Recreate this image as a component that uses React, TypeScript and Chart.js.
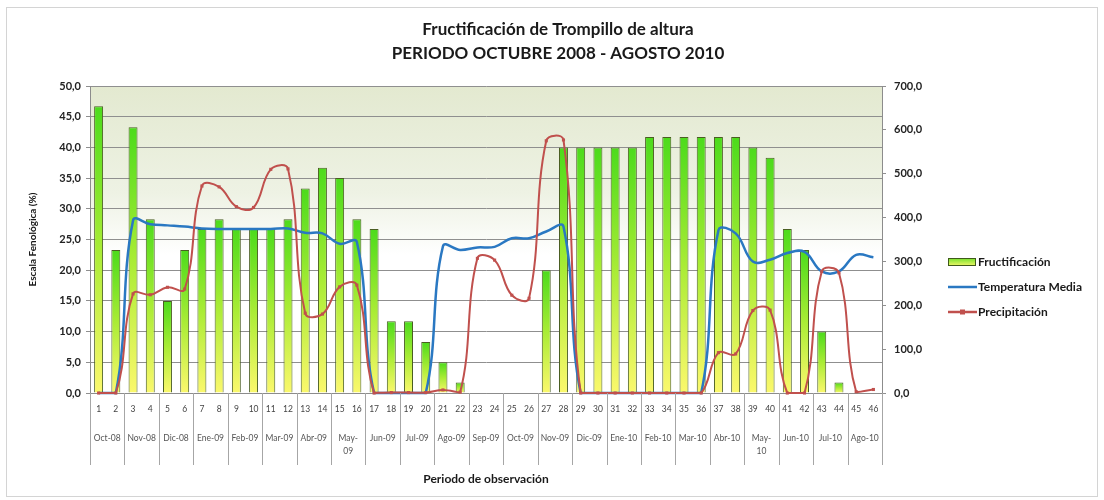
import React, { useEffect, useRef } from 'react';
import { Chart, registerables } from 'chart.js';

Chart.register(...registerables);

const observaciones = ['1','2','3','4','5','6','7','8','9','10','11','12','13','14','15','16','17','18','19','20','21','22','23','24','25','26','27','28','29','30','31','32','33','34','35','36','37','38','39','40','41','42','43','44','45','46'];

const meses: (string | string[])[] = ['Oct-08','Nov-08','Dic-08','Ene-09','Feb-09','Mar-09','Abr-09',['May-','09'],'Jun-09','Jul-09','Ago-09','Sep-09','Oct-09','Nov-09','Dic-09','Ene-10','Feb-10','Mar-10','Abr-10',['May-','10'],'Jun-10','Jul-10','Ago-10'];

const fructificacion = [46.7,23.3,43.3,28.3,15.0,23.3,26.7,28.3,26.7,26.7,26.7,28.3,33.3,36.7,35.0,28.3,26.7,11.7,11.7,8.3,5.0,1.7,0,0,0,0,20.0,40.0,40.0,40.0,40.0,40.0,41.7,41.7,41.7,41.7,41.7,41.7,40.0,38.3,26.7,23.3,10.0,1.7,0,0];

const temperaturaMedia = [0,0,28.1,27.5,27.3,27.1,26.8,26.7,26.7,26.7,26.7,26.8,26.1,26.0,24.3,24.6,0,0,0,0,23.9,23.3,23.7,23.8,25.2,25.2,26.3,27.1,0,0,0,0,0,0,0,0,26.5,26.0,21.4,21.7,22.8,23.0,19.8,19.8,22.5,22.1];

const precipitacion = [0,0,226,224,241,237,472,470,425,423,510,511,182,180,242,246,0,1,1,1,7,2,307,303,223,216,575,577,0,0,0,0,0,0,0,0,92,89,188,189,0,0,277,274,3,8];

const titulo = ['Fructificación de Trompillo de altura', 'PERIODO OCTUBRE 2008 - AGOSTO 2010'];

const FONT = 'Lato, "Open Sans", sans-serif';
const fmt = (v: number) => Number(v).toFixed(1).replace('.', ',');

const BLUE = '#2a78c2';
const RED = '#c0504d';

const decorPlugin = {
  id: 'decor',
  beforeDraw(chart: any) {
    const { ctx, chartArea: a } = chart;
    if (!a) return;
    ctx.save();
    const g = ctx.createLinearGradient(0, a.top, 0, a.bottom);
    g.addColorStop(0, '#e3e9d0');
    g.addColorStop(0.35, '#eef2e4');
    g.addColorStop(0.55, '#ffffff');
    g.addColorStop(1, '#ffffff');
    ctx.fillStyle = g;
    ctx.fillRect(a.left, a.top, a.right - a.left, a.bottom - a.top);
    ctx.restore();
  },
  afterDraw(chart: any) {
    const { ctx, chartArea: a } = chart;
    const x = chart.scales.x;
    const x2 = chart.scales.x2;
    ctx.save();
    // title
    ctx.fillStyle = '#1a1a1a';
    ctx.font = `bold 17px ${FONT}`;
    ctx.textAlign = 'center';
    ctx.textBaseline = 'middle';
    ctx.fillText(titulo[0], 558, 30);
    ctx.fillText(titulo[1], 558, 54);
    // month separators
    ctx.strokeStyle = '#a6a6a6';
    ctx.lineWidth = 1;
    const n = meses.length;
    for (let k = 0; k <= n; k++) {
      const px = Math.round(x.getPixelForDecimal(k / n)) + 0.5;
      ctx.beginPath();
      ctx.moveTo(px, a.bottom);
      ctx.lineTo(px, x2.top + 42);
      ctx.stroke();
    }
    // outer border
    ctx.strokeStyle = '#d4d4d4';
    ctx.strokeRect(6.5, 7.5, 1091, 489);
    // legend
    const lx = 948;
    const items = [
      { label: 'Fructificación', y: 262, kind: 'bar' },
      { label: 'Temperatura Media', y: 287, kind: 'line' },
      { label: 'Precipitación', y: 312, kind: 'mark' },
    ];
    ctx.font = `bold 12px ${FONT}`;
    ctx.textBaseline = 'middle';
    ctx.textAlign = 'left';
    for (const it of items) {
      if (it.kind === 'bar') {
        const gg = ctx.createLinearGradient(0, it.y - 4, 0, it.y + 4);
        gg.addColorStop(0, '#6fe02a');
        gg.addColorStop(1, '#f3f76a');
        ctx.fillStyle = gg;
        ctx.fillRect(lx, it.y - 4, 27, 7);
        ctx.strokeStyle = '#3f5a1a';
        ctx.lineWidth = 1;
        ctx.strokeRect(lx + 0.5, it.y - 3.5, 27, 7);
      } else {
        ctx.strokeStyle = it.kind === 'line' ? BLUE : RED;
        ctx.lineWidth = 2.5;
        ctx.beginPath();
        ctx.moveTo(lx, it.y);
        ctx.lineTo(lx + 29, it.y);
        ctx.stroke();
        if (it.kind === 'mark') {
          ctx.fillStyle = RED;
          ctx.fillRect(lx + 12, it.y - 2.5, 5, 5);
        }
      }
      ctx.fillStyle = '#1a1a1a';
      ctx.fillText(it.label, lx + 30, it.y);
    }
    ctx.restore();
  },
};

export default function App() {
  const ref = useRef<HTMLCanvasElement>(null);

  useEffect(() => {
    if (!ref.current) return;
    const chart = new Chart(ref.current, {
      type: 'bar',
      data: {
        labels: observaciones,
        datasets: [
          {
            type: 'bar',
            label: 'Fructificación',
            data: fructificacion,
            yAxisID: 'y',
            xAxisID: 'x',
            order: 3,
            barPercentage: 0.52,
            categoryPercentage: 1,
            borderColor: '#4a5e22',
            borderWidth: (c: any) => (c.raw ? 1 : 0),
            borderSkipped: 'bottom',
            backgroundColor: (c: any) => {
              const ch = c.chart;
              if (!ch.chartArea || c.type !== 'data' || !c.raw) return '#9be33a';
              const ys = ch.scales.y;
              const top = ys.getPixelForValue(c.raw);
              const bottom = ys.getPixelForValue(0);
              if (bottom - top < 1) return '#9be33a';
              const g = ch.ctx.createLinearGradient(0, top, 0, bottom);
              g.addColorStop(0, '#4cdb1c');
              g.addColorStop(0.5, '#a9ec35');
              g.addColorStop(1, '#fbf86c');
              return g;
            },
          } as any,
          {
            type: 'line',
            label: 'Temperatura Media',
            data: temperaturaMedia,
            yAxisID: 'y',
            xAxisID: 'x',
            order: 2,
            borderColor: BLUE,
            borderWidth: 2.5,
            pointRadius: 0,
            tension: 0.4,
            clip: false,
          } as any,
          {
            type: 'line',
            label: 'Precipitación',
            data: precipitacion,
            yAxisID: 'y1',
            xAxisID: 'x',
            order: 1,
            borderColor: RED,
            backgroundColor: RED,
            borderWidth: 2,
            pointStyle: 'rect',
            pointRadius: 2.2,
            pointBorderWidth: 0,
            tension: 0.4,
            clip: false,
          } as any,
        ],
      },
      options: {
        responsive: false,
        animation: false,
        layout: { padding: { top: 86, left: 0, right: 162, bottom: 10 } },
        plugins: {
          legend: { display: false },
          tooltip: { enabled: false },
          title: { display: false },
        },
        scales: {
          x: {
            type: 'category',
            position: 'bottom',
            weight: 0,
            offset: true,
            grid: { display: false, drawTicks: false },
            border: { display: true, color: '#8c8c8c' },
            ticks: {
              autoSkip: false,
              maxRotation: 0,
              minRotation: 0,
              padding: 11,
              color: '#444',
              font: { family: FONT, size: 8.5 },
            },
            afterFit: (s: any) => { s.height = 30; },
          },
          x2: {
            type: 'category',
            position: 'bottom',
            weight: 1,
            labels: meses as any,
            offset: true,
            grid: { display: false, drawTicks: false },
            border: { display: false },
            ticks: {
              autoSkip: false,
              maxRotation: 0,
              minRotation: 0,
              padding: 9,
              color: '#555',
              font: { family: FONT, size: 8.5, lineHeight: 1.55 },
            },
            title: {
              display: true,
              text: 'Periodo de observación',
              color: '#1a1a1a',
              font: { family: FONT, size: 12, weight: 'bold' },
              padding: { top: 0, bottom: 4 },
            },
            afterFit: (s: any) => { s.height = 67; },
          },
          y: {
            type: 'linear',
            position: 'left',
            min: 0,
            max: 50,
            ticks: {
              stepSize: 5,
              padding: 5,
              color: '#222',
              font: { family: FONT, size: 11, weight: 'bold' },
              callback: (v: any) => fmt(v),
            },
            grid: { color: '#8f8f8f', lineWidth: 1, drawTicks: true, tickLength: 4 },
            border: { display: true, color: '#8c8c8c' },
            title: {
              display: true,
              text: 'Escala Fenológica (%)',
              color: '#1a1a1a',
              font: { family: FONT, size: 10, weight: 'bold' },
              padding: { top: 27, bottom: 0 },
            },
            afterFit: (s: any) => { s.width = 90; },
          },
          y1: {
            type: 'linear',
            position: 'right',
            min: 0,
            max: 700,
            ticks: {
              stepSize: 100,
              padding: 8,
              color: '#222',
              font: { family: FONT, size: 11, weight: 'bold' },
              callback: (v: any) => fmt(v),
            },
            grid: { drawOnChartArea: false, color: '#8f8f8f', drawTicks: true, tickLength: 4 },
            border: { display: true, color: '#8c8c8c' },
            afterFit: (s: any) => { s.width = 60; },
          },
        },
      } as any,
      plugins: [decorPlugin],
    });
    return () => chart.destroy();
  }, []);

  return (
    <div style={{ position: 'absolute', left: 0, top: 0, width: 1104, height: 500, background: '#fff' }}>
      <canvas ref={ref} width={1104} height={500} style={{ display: 'block' }} />
    </div>
  );
}
